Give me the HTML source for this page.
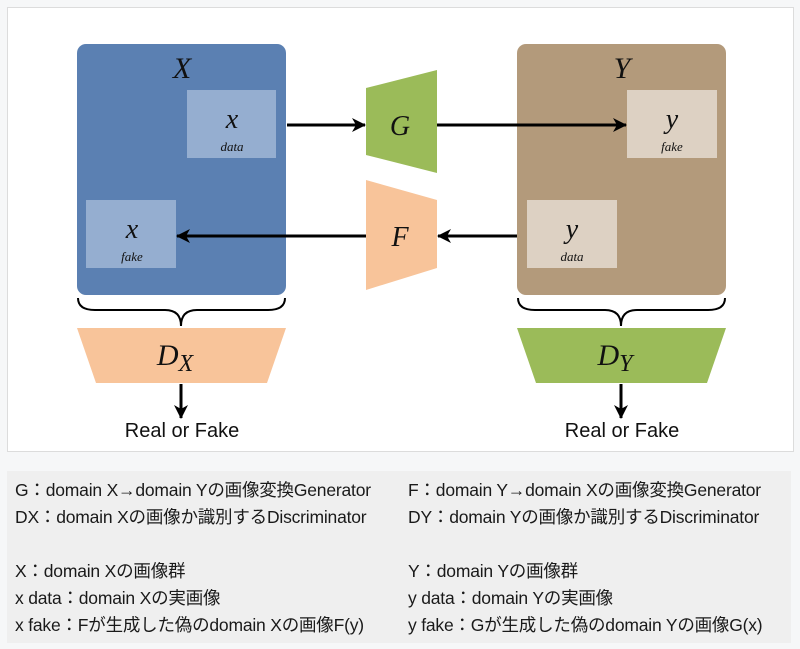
<!DOCTYPE html>
<html><head><meta charset="utf-8"><style>
body{margin:0;width:800px;height:649px;background:#f6f7f8;font-family:"Liberation Sans","Noto Sans CJK JP",sans-serif;position:relative;overflow:hidden}
.frame{position:absolute;left:7px;top:7px;width:785px;height:443px;background:#fff;border:1px solid #dcdcdc}
.txt{position:absolute;left:7px;top:471px;width:784px;height:172px;background:#efefef}
.t{position:absolute;font-size:17.5px;color:#1a1a1a;white-space:nowrap;letter-spacing:-0.2px;line-height:20px}
</style></head><body>
<div class="frame"></div>
<svg style="position:absolute;left:0;top:0" width="800" height="460">
<defs><marker id="a" markerWidth="16" markerHeight="16" refX="13" refY="8" orient="auto" markerUnits="userSpaceOnUse"><path d="M0,1 L14,8 L0,15 L4,8z" fill="#000"/></marker></defs>
<rect x="77" y="44" width="209" height="251" rx="9" fill="#5b80b2"/>
<rect x="187" y="90" width="89" height="68" fill="#95aed0"/>
<rect x="86" y="200" width="90" height="68" fill="#95aed0"/>
<rect x="517" y="44" width="209" height="251" rx="9" fill="#b39a7b"/>
<rect x="627" y="90" width="90" height="68" fill="#ddd1c3"/>
<rect x="527" y="200" width="90" height="68" fill="#ddd1c3"/>
<polygon points="366,88 437,70 437,173 366,155" fill="#9bbb59"/>
<polygon points="366,180 437,200 437,268 366,290" fill="#f8c49a"/>
<polygon points="77,328 286,328 267,383 96,383" fill="#f8c49a"/>
<polygon points="517,328 726,328 707,383 536,383" fill="#9bbb59"/>
<g stroke="#000" stroke-width="3" fill="none">
<line x1="287" y1="125" x2="365" y2="125" marker-end="url(#a)"/>
<line x1="437" y1="125" x2="626" y2="125" marker-end="url(#a)"/>
<line x1="517" y1="236" x2="438" y2="236" marker-end="url(#a)"/>
<line x1="366" y1="236" x2="177" y2="236" marker-end="url(#a)"/>
<line x1="181" y1="384" x2="181" y2="418" marker-end="url(#a)"/>
<line x1="621" y1="384" x2="621" y2="418" marker-end="url(#a)"/>
</g>
<g stroke="#000" stroke-width="2" fill="none">
<path d="M78,298 Q78,310 95,310 L165,310 Q181,310 181,326 Q181,310 197,310 L268,310 Q285,310 285,298"/>
<path d="M518,298 Q518,310 535,310 L605,310 Q621,310 621,326 Q621,310 637,310 L708,310 Q725,310 725,298"/>
</g>
<g font-family="Liberation Serif,serif" font-style="italic" fill="#111" text-anchor="middle">
<text x="182" y="78" font-size="30">X</text>
<text x="622" y="78" font-size="30">Y</text>
<text x="232" y="128" font-size="28">x</text><text x="232" y="151" font-size="13">data</text>
<text x="132" y="238" font-size="28">x</text><text x="132" y="261" font-size="13">fake</text>
<text x="672" y="128" font-size="28">y</text><text x="672" y="151" font-size="13">fake</text>
<text x="572" y="238" font-size="28">y</text><text x="572" y="261" font-size="13">data</text>
<text x="400" y="135" font-size="28">G</text>
<text x="400" y="246" font-size="28">F</text>
<text x="175" y="365" font-size="30">D<tspan font-size="24" dy="6">X</tspan></text>
<text x="615" y="365" font-size="30">D<tspan font-size="24" dy="6">Y</tspan></text>
</g>
<g font-family="Liberation Sans,sans-serif" font-size="20" fill="#111" text-anchor="middle">
<text x="182" y="437">Real or Fake</text>
<text x="622" y="437">Real or Fake</text>
</g>
</svg>
<div class="txt"></div>
<div class="t" style="left:15px;top:480px">G：domain X→domain Yの画像変換Generator</div>
<div class="t" style="left:408px;top:480px">F：domain Y→domain Xの画像変換Generator</div>
<div class="t" style="left:15px;top:507px">DX：domain Xの画像か識別するDiscriminator</div>
<div class="t" style="left:408px;top:507px">DY：domain Yの画像か識別するDiscriminator</div>
<div class="t" style="left:15px;top:561px">X：domain Xの画像群</div>
<div class="t" style="left:408px;top:561px">Y：domain Yの画像群</div>
<div class="t" style="left:15px;top:588px">x data：domain Xの実画像</div>
<div class="t" style="left:408px;top:588px">y data：domain Yの実画像</div>
<div class="t" style="left:15px;top:615px">x fake：Fが生成した偽のdomain Xの画像F(y)</div>
<div class="t" style="left:408px;top:615px">y fake：Gが生成した偽のdomain Yの画像G(x)</div>
</body></html>
